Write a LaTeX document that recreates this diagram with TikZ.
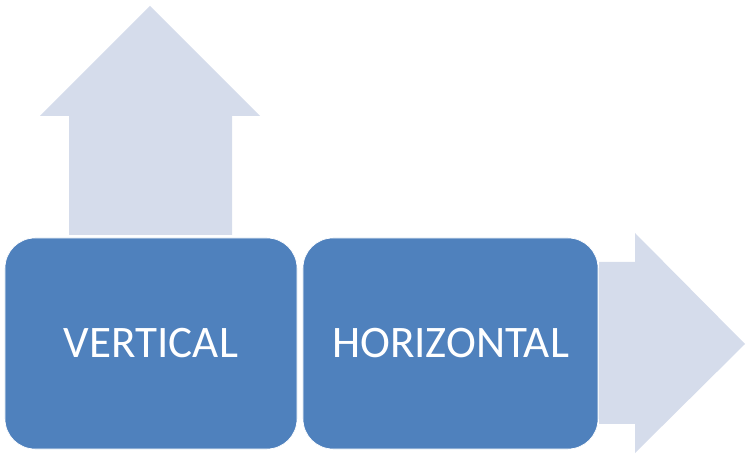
\documentclass[tikz,border=0pt]{standalone}
\usepackage{fontspec}
\setmainfont{Carlito}
\definecolor{boxblue}{HTML}{4F81BD}
\definecolor{arrowgrey}{HTML}{D5DCEB}
\tikzset{
  box/.style={fill=boxblue, draw=white, line width=0.6pt, rounded corners=0.9cm,
    minimum width=8.76cm, minimum height=6.33cm, inner sep=0pt,
    text=white, font=\fontsize{38.5}{46}\selectfont},
  fatarrow/.style={fill=arrowgrey, draw=none}
}
\begin{document}
\begin{tikzpicture}[x=0.03cm,y=-0.03cm]
			\useasboundingbox (0,0) rectangle (747,455);
			\draw [fatarrow] (69,235)-- (69,116)-- (40,116)-- (150,6)-- (260,116)-- (232,116)-- (232,235)-- cycle;
			\draw [fatarrow] (599,262)-- (635,262)-- (635,233)-- (745,344)-- (635,453)-- (635,424)-- (599,424)-- cycle;
			\node [box] (vertical) at (151,343.5) {VERTICAL};
			\node [box, minimum width=8.85cm] (horizontal) at (450.5,343.5) {HORIZONTAL};
		\end{tikzpicture}
\end{document}
